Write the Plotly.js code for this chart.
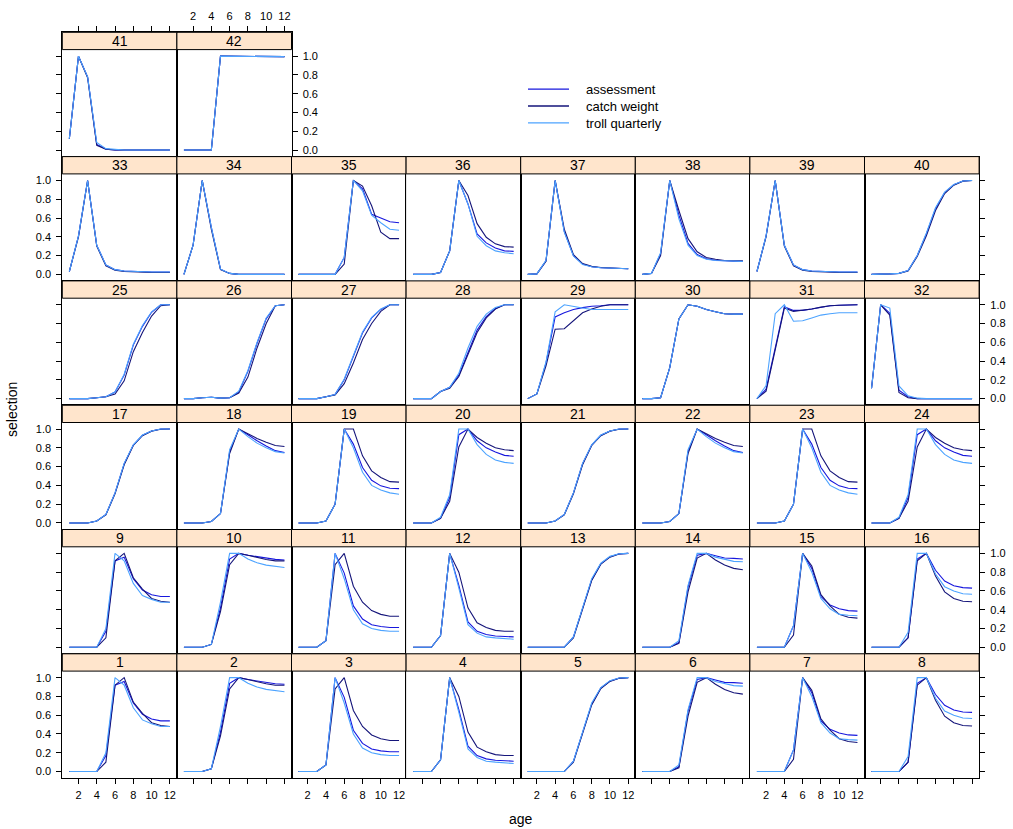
<!DOCTYPE html>
<html>
<head>
<meta charset="utf-8">
<script src="https://cdn.plot.ly/plotly-3.0.1.min.js"></script>
<style>html,body{margin:0;padding:0;background:#fff;} #chart{width:1013px;height:829px;}</style>
</head>
<body>
<div id="chart"></div>
<script>
// ---------------- data ----------------
const ages = [1, 2, 3, 4, 5, 6, 7, 8, 9, 10, 11, 12];
const panelLabels = ['1','2','3','4','5','6','7','8','9','10','11','12','13','14','15','16','17','18','19','20','21','22','23','24','25','26','27','28','29','30','31','32','33','34','35','36','37','38','39','40','41','42'];
const seriesNames = ['assessment', 'catch weight', 'troll quarterly'];
const seriesColors = ['#1717DD', '#15157A', '#4CA3FF'];
const xTickVals = [2, 4, 6, 8, 10, 12];
const yTickVals = [0, 0.2, 0.4, 0.6, 0.8, 1.0];
const yTickText = ['0.0', '0.2', '0.4', '0.6', '0.8', '1.0'];

const assessment = [
  [0,0,0,0,0.17,0.92,0.96,0.73,0.61,0.56,0.54,0.54],
  [0,0,0,0.03,0.42,0.94,1.0,0.98,0.965,0.95,0.936,0.93],
  [0,0,0,0.07,1.0,0.79,0.44,0.3,0.24,0.22,0.21,0.21],
  [0,0,0,0.125,1.0,0.66,0.27,0.17,0.135,0.12,0.115,0.11],
  [0,0,0,0,0,0.11,0.41,0.72,0.89,0.965,0.995,1.0],
  [0,0,0,0,0.05,0.64,0.98,1.0,0.975,0.95,0.947,0.94],
  [0,0,0,0,0.23,1.0,0.84,0.54,0.45,0.41,0.39,0.385],
  [0,0,0,0,0.1,0.94,1.0,0.82,0.705,0.655,0.635,0.63],
  [0,0,0,0,0.17,0.92,0.96,0.73,0.61,0.56,0.54,0.54],
  [0,0,0,0.03,0.42,0.94,1.0,0.98,0.965,0.95,0.936,0.93],
  [0,0,0,0.07,1.0,0.79,0.44,0.3,0.24,0.22,0.21,0.21],
  [0,0,0,0.125,1.0,0.66,0.27,0.17,0.135,0.12,0.115,0.11],
  [0,0,0,0,0,0.11,0.41,0.72,0.89,0.965,0.995,1.0],
  [0,0,0,0,0.05,0.64,0.98,1.0,0.975,0.95,0.947,0.94],
  [0,0,0,0,0.23,1.0,0.84,0.54,0.45,0.41,0.39,0.385],
  [0,0,0,0,0.1,0.94,1.0,0.82,0.705,0.655,0.635,0.63],
  [0,0,0,0.02,0.09,0.32,0.63,0.83,0.935,0.98,1.0,1.0],
  [0,0,0,0.015,0.1,0.76,1.0,0.94,0.875,0.82,0.77,0.75],
  [0,0,0,0.02,0.2,1.0,0.84,0.59,0.455,0.395,0.37,0.365],
  [0,0,0,0.05,0.27,0.94,1.0,0.875,0.8,0.755,0.72,0.71],
  [0,0,0,0.02,0.09,0.32,0.63,0.83,0.935,0.98,1.0,1.0],
  [0,0,0,0.015,0.1,0.76,1.0,0.94,0.875,0.82,0.77,0.75],
  [0,0,0,0.02,0.2,1.0,0.84,0.59,0.455,0.395,0.37,0.365],
  [0,0,0,0.05,0.27,0.94,1.0,0.875,0.8,0.755,0.72,0.71],
  [0,0,0,0.01,0.02,0.07,0.25,0.57,0.77,0.92,1.0,1.0],
  [0,0,0.01,0.015,0.005,0.01,0.07,0.29,0.59,0.85,0.99,1.0],
  [0,0,0,0.02,0.045,0.2,0.45,0.7,0.86,0.95,1.0,1.0],
  [0,0,0,0.075,0.12,0.25,0.48,0.73,0.875,0.96,1.0,1.0],
  [0,0.05,0.38,0.87,0.915,0.95,0.97,0.985,0.99,1.0,1.0,1.0],
  [0,0,0.01,0.33,0.85,1.0,0.985,0.95,0.925,0.905,0.9,0.9],
  [0,0.1,0.54,0.98,0.94,0.94,0.955,0.975,0.99,0.995,1.0,1.0],
  [0.11,1.0,0.91,0.09,0.02,0,0,0,0,0,0,0],
  [0.03,0.41,1.0,0.31,0.1,0.05,0.035,0.03,0.025,0.025,0.025,0.025],
  [0,0.31,1.0,0.5,0.055,0.01,0,0,0,0,0,0],
  [0,0,0,0,0,0.18,1.0,0.91,0.64,0.6,0.56,0.55],
  [0,0,0,0.02,0.25,1.0,0.75,0.43,0.335,0.28,0.25,0.245],
  [0,0.005,0.145,1.0,0.455,0.2,0.11,0.08,0.07,0.065,0.06,0.06],
  [0,0.01,0.22,1.0,0.63,0.33,0.21,0.165,0.15,0.143,0.14,0.14],
  [0.03,0.41,1.0,0.31,0.1,0.05,0.035,0.03,0.025,0.025,0.025,0.025],
  [0,0,0.005,0.01,0.04,0.2,0.43,0.7,0.87,0.955,0.995,1.0],
  [0.12,1.0,0.78,0.06,0.01,0,0,0,0,0,0,0],
  [0,0,0,0,1.0,1.0,0.998,0.997,0.996,0.995,0.995,0.995]
];

const catchWeight = [
  [0,0,0,0,0.1,0.92,1.0,0.74,0.62,0.52,0.49,0.48],
  [0,0,0,0.03,0.38,0.88,1.0,0.98,0.955,0.935,0.92,0.92],
  [0,0,0,0.07,0.88,1.0,0.65,0.48,0.39,0.35,0.33,0.33],
  [0,0,0,0.125,1.0,0.8,0.42,0.26,0.21,0.18,0.17,0.17],
  [0,0,0,0,0,0.1,0.4,0.71,0.885,0.96,0.993,1.0],
  [0,0,0,0,0.04,0.59,0.95,1.0,0.93,0.875,0.84,0.825],
  [0,0,0,0,0.13,1.0,0.865,0.56,0.44,0.35,0.32,0.31],
  [0,0,0,0,0.1,0.92,1.0,0.76,0.59,0.52,0.49,0.485],
  [0,0,0,0,0.1,0.92,1.0,0.74,0.62,0.52,0.49,0.48],
  [0,0,0,0.03,0.38,0.88,1.0,0.98,0.955,0.935,0.92,0.92],
  [0,0,0,0.07,0.88,1.0,0.65,0.48,0.39,0.35,0.33,0.33],
  [0,0,0,0.125,1.0,0.8,0.42,0.26,0.21,0.18,0.17,0.17],
  [0,0,0,0,0,0.1,0.4,0.71,0.885,0.96,0.993,1.0],
  [0,0,0,0,0.04,0.59,0.95,1.0,0.93,0.875,0.84,0.825],
  [0,0,0,0,0.13,1.0,0.865,0.56,0.44,0.35,0.32,0.31],
  [0,0,0,0,0.1,0.92,1.0,0.76,0.59,0.52,0.49,0.485],
  [0,0,0,0.02,0.085,0.31,0.62,0.825,0.93,0.978,0.998,1.0],
  [0,0,0,0.015,0.1,0.74,1.0,0.95,0.9,0.86,0.825,0.815],
  [0,0,0,0.02,0.2,1.0,1.0,0.715,0.555,0.485,0.44,0.435],
  [0,0,0,0.05,0.23,0.81,1.0,0.91,0.85,0.8,0.78,0.77],
  [0,0,0,0.02,0.085,0.31,0.62,0.825,0.93,0.978,0.998,1.0],
  [0,0,0,0.015,0.1,0.74,1.0,0.95,0.9,0.86,0.825,0.815],
  [0,0,0,0.02,0.2,1.0,1.0,0.715,0.555,0.485,0.44,0.435],
  [0,0,0,0.05,0.23,0.81,1.0,0.91,0.85,0.8,0.78,0.77],
  [0,0,0,0.01,0.02,0.05,0.19,0.5,0.705,0.88,0.99,1.0],
  [0,0,0.01,0.015,0.005,0.01,0.06,0.23,0.54,0.8,0.99,1.0],
  [0,0,0,0.02,0.04,0.16,0.38,0.63,0.8,0.93,1.0,1.0],
  [0,0,0,0.075,0.11,0.235,0.47,0.705,0.86,0.955,1.0,1.0],
  [0,0.05,0.35,0.74,0.745,0.825,0.915,0.955,0.985,1.0,1.0,1.0],
  [0,0,0.01,0.33,0.85,1.0,0.985,0.95,0.925,0.905,0.9,0.9],
  [0,0.08,0.52,0.965,0.93,0.94,0.955,0.975,0.99,0.995,1.0,1.0],
  [0.11,1.0,0.89,0.065,0.01,0,0,0,0,0,0,0],
  [0.03,0.4,1.0,0.3,0.09,0.045,0.03,0.025,0.02,0.02,0.02,0.02],
  [0,0.31,1.0,0.48,0.05,0.01,0,0,0,0,0,0],
  [0,0,0,0,0,0.11,1.0,0.94,0.73,0.45,0.38,0.38],
  [0,0,0,0.02,0.25,1.0,0.84,0.54,0.395,0.325,0.295,0.29],
  [0,0.005,0.14,1.0,0.48,0.21,0.115,0.085,0.072,0.066,0.062,0.06],
  [0,0.01,0.2,1.0,0.68,0.38,0.24,0.18,0.16,0.148,0.145,0.145],
  [0.03,0.4,1.0,0.3,0.09,0.045,0.03,0.025,0.02,0.02,0.02,0.02],
  [0,0,0.005,0.01,0.035,0.19,0.41,0.68,0.86,0.95,0.993,1.0],
  [0.12,1.0,0.77,0.05,0.01,0,0,0,0,0,0,0],
  [0,0,0,0,1.0,1.0,0.998,0.997,0.996,0.995,0.995,0.995]
];

const trollQuarterly = [
  [0,0,0,0,0.2,1.0,0.92,0.68,0.55,0.51,0.48,0.48],
  [0,0,0,0.03,0.48,1.0,1.0,0.94,0.9,0.875,0.86,0.85],
  [0,0,0,0.07,1.0,0.73,0.4,0.25,0.2,0.18,0.17,0.17],
  [0,0,0,0.125,1.0,0.63,0.24,0.15,0.11,0.1,0.09,0.085],
  [0,0,0,0,0,0.11,0.42,0.73,0.895,0.968,0.996,1.0],
  [0,0,0,0,0.07,0.66,1.0,1.0,0.96,0.935,0.915,0.91],
  [0,0,0,0,0.23,1.0,0.8,0.52,0.41,0.35,0.34,0.335],
  [0,0,0,0,0.16,1.0,1.0,0.78,0.645,0.6,0.57,0.565],
  [0,0,0,0,0.2,1.0,0.92,0.68,0.55,0.51,0.48,0.48],
  [0,0,0,0.03,0.48,1.0,1.0,0.94,0.9,0.875,0.86,0.85],
  [0,0,0,0.07,1.0,0.73,0.4,0.25,0.2,0.18,0.17,0.17],
  [0,0,0,0.125,1.0,0.63,0.24,0.15,0.11,0.1,0.09,0.085],
  [0,0,0,0,0,0.11,0.42,0.73,0.895,0.968,0.996,1.0],
  [0,0,0,0,0.07,0.66,1.0,1.0,0.96,0.935,0.915,0.91],
  [0,0,0,0,0.23,1.0,0.8,0.52,0.41,0.35,0.34,0.335],
  [0,0,0,0,0.16,1.0,1.0,0.78,0.645,0.6,0.57,0.565],
  [0,0,0,0.02,0.09,0.32,0.635,0.832,0.936,0.98,1.0,1.0],
  [0,0,0,0.015,0.1,0.78,1.0,0.92,0.85,0.8,0.76,0.745],
  [0,0,0,0.02,0.2,1.0,0.8,0.54,0.4,0.35,0.32,0.305],
  [0,0,0,0.06,0.3,1.0,1.0,0.835,0.73,0.67,0.645,0.635],
  [0,0,0,0.02,0.09,0.32,0.635,0.832,0.936,0.98,1.0,1.0],
  [0,0,0,0.015,0.1,0.78,1.0,0.92,0.85,0.8,0.76,0.745],
  [0,0,0,0.02,0.2,1.0,0.8,0.54,0.4,0.35,0.32,0.305],
  [0,0,0,0.06,0.3,1.0,1.0,0.835,0.73,0.67,0.645,0.635],
  [0,0,0,0.01,0.02,0.07,0.26,0.58,0.78,0.925,1.0,1.0],
  [0,0,0.01,0.015,0.005,0.01,0.08,0.3,0.6,0.86,0.99,1.0],
  [0,0,0,0.02,0.045,0.21,0.46,0.71,0.865,0.955,1.0,1.0],
  [0,0,0,0.075,0.12,0.27,0.54,0.77,0.9,0.97,1.0,1.0],
  [0,0.05,0.39,0.925,1.0,0.98,0.965,0.95,0.95,0.95,0.95,0.95],
  [0,0,0.01,0.33,0.85,1.0,0.985,0.95,0.925,0.905,0.9,0.9],
  [0,0.14,0.905,1.0,0.825,0.83,0.86,0.89,0.905,0.915,0.915,0.915],
  [0.11,1.0,0.965,0.135,0.03,0.005,0,0,0,0,0,0],
  [0.03,0.41,1.0,0.31,0.1,0.05,0.035,0.03,0.025,0.025,0.025,0.025],
  [0,0.31,1.0,0.5,0.055,0.01,0,0,0,0,0,0],
  [0,0,0,0,0,0.18,1.0,0.89,0.63,0.55,0.48,0.47],
  [0,0,0,0.02,0.25,1.0,0.75,0.405,0.305,0.25,0.23,0.22],
  [0,0.005,0.15,1.0,0.45,0.195,0.105,0.08,0.07,0.065,0.06,0.06],
  [0,0.01,0.23,1.0,0.59,0.31,0.2,0.16,0.148,0.142,0.138,0.138],
  [0.03,0.41,1.0,0.31,0.1,0.05,0.035,0.03,0.025,0.025,0.025,0.025],
  [0,0,0.005,0.01,0.04,0.2,0.44,0.71,0.875,0.957,0.995,1.0],
  [0.12,1.0,0.78,0.08,0.015,0.005,0,0,0,0,0,0],
  [0,0,0,0,1.0,1.0,0.998,0.997,0.996,0.995,0.995,0.995]
];

// ---------------- layout geometry ----------------
const W = 1013, H = 829;
const colLeft0 = 62.3, colW = 114.6;
const rowTop0 = 32.3, rowH = 124.3, stripH = 17.3;
const nCols = 8, nRowsBottomUp = 6;
const FONT = 'Liberation Sans, Arial, Helvetica, sans-serif';
const xRange = [0.23, 12.77];
const yLo = -0.07, yHi = 1.07;
const plotH = rowH - stripH;
const yTop = yHi + (yHi - yLo) * stripH / plotH;

const series = [assessment, catchWeight, trollQuarterly];
const traces = [];
const layout = {
  width: W, height: H, autosize: false,
  margin: {l: 0, r: 0, t: 0, b: 0, pad: 0},
  paper_bgcolor: '#ffffff', plot_bgcolor: '#ffffff',
  font: {family: FONT, size: 11, color: '#000'},
  showlegend: false,
  shapes: [], annotations: []
};

const px2x = p => p / W;
const px2y = p => 1 - p / H;

for (let i = 0; i < panelLabels.length; i++) {
  const n = i + 1;
  const rb = Math.floor(i / nCols);          // row from bottom
  const c = i % nCols;                        // column
  const r = nRowsBottomUp - 1 - rb;           // row from top
  const lastCol = (rb === nRowsBottomUp - 1) ? (panelLabels.length - 1) % nCols : nCols - 1;
  const L = colLeft0 + c * colW, R = L + colW;
  const T = rowTop0 + r * rowH, B = T + rowH;
  const xName = n === 1 ? 'x' : 'x' + n;
  const yName = n === 1 ? 'y' : 'y' + n;
  const xKey = n === 1 ? 'xaxis' : 'xaxis' + n;
  const yKey = n === 1 ? 'yaxis' : 'yaxis' + n;

  const isBottom = rb === 0;
  layout[xKey] = {
    domain: [px2x(L), px2x(R)], range: xRange, anchor: yName,
    showgrid: false, zeroline: false, showline: true, mirror: true,
    linecolor: '#000', linewidth: 1,
    tickmode: 'array', tickvals: xTickVals,
    ticks: isBottom ? 'outside' : '', ticklen: 5, tickwidth: 1, tickcolor: '#000',
    showticklabels: isBottom && c % 2 === 0,
    ticklabelstandoff: 2,
    tickfont: {family: FONT, size: 11, color: '#000'}, fixedrange: true
  };

  let ySide = 'left', yTicks = '', yLabels = false;
  if (c === 0) { ySide = 'left'; yTicks = 'outside'; yLabels = rb % 2 === 0; }
  else if (c === lastCol) { ySide = 'right'; yTicks = 'outside'; yLabels = rb % 2 === 1; }
  layout[yKey] = {
    domain: [px2y(B), px2y(T)], range: [yLo, yTop], anchor: xName, side: ySide,
    showgrid: false, zeroline: false, showline: true, mirror: true,
    linecolor: '#000', linewidth: 1,
    tickmode: 'array', tickvals: yTickVals, ticktext: yTickText,
    ticks: yTicks, ticklen: 5, tickwidth: 1, tickcolor: '#000',
    showticklabels: yLabels, ticklabelstandoff: 3,
    tickfont: {family: FONT, size: 11, color: '#000'}, fixedrange: true
  };

  // strip
  layout.shapes.push({
    type: 'rect', xref: 'paper', yref: 'paper',
    x0: px2x(L), x1: px2x(R), y0: px2y(T + stripH), y1: px2y(T),
    fillcolor: '#FFE5CC', line: {color: '#000', width: 1}, layer: 'above'
  });
  layout.annotations.push({
    xref: 'paper', yref: 'paper', x: px2x((L + R) / 2), y: px2y(T + stripH / 2),
    text: panelLabels[i], showarrow: false, xanchor: 'center', yanchor: 'middle',
    font: {family: FONT, size: 14, color: '#000'}
  });

  for (let s = 0; s < series.length; s++) {
    traces.push({
      type: 'scatter', mode: 'lines', x: ages, y: series[s][i],
      xaxis: xName, yaxis: yName,
      name: seriesNames[s], showlegend: false,
      line: {color: seriesColors[s], width: 1.1}, hoverinfo: 'skip'
    });
  }

  // top axis for panels in the top row of the layout
  if (rb === nRowsBottomUp - 1) {
    const topN = panelLabels.length + 1 + c;
    const topKey = 'xaxis' + topN;
    layout[topKey] = {
      overlaying: xName, anchor: yName, side: 'top', range: xRange,
      showgrid: false, zeroline: false, showline: false,
      tickmode: 'array', tickvals: xTickVals,
      ticks: 'outside', ticklen: 5, tickwidth: 1, tickcolor: '#000',
      showticklabels: c % 2 === 1, ticklabelstandoff: 2,
      tickfont: {family: FONT, size: 11, color: '#000'}, fixedrange: true
    };
    traces.push({type: 'scatter', mode: 'lines', x: [], y: [], xaxis: 'x' + topN, yaxis: yName,
      showlegend: false, hoverinfo: 'skip'});
  }
}

// key (legend) drawn like the lattice key: short line + label, one text block
const keyFont = 13;
const keyLineGap = keyFont * 1.3;
const keyCenterY = 106;
const keyLineX0 = 528, keyLineX1 = 569, keyTextX = 585;
for (let s = 0; s < seriesNames.length; s++) {
  const yy = keyCenterY + (s - 1) * keyLineGap;
  layout.shapes.push({
    type: 'line', xref: 'paper', yref: 'paper',
    x0: px2x(keyLineX0), x1: px2x(keyLineX1), y0: px2y(yy), y1: px2y(yy),
    line: {color: seriesColors[s], width: 1.3}
  });
}
layout.annotations.push({
  xref: 'paper', yref: 'paper', x: px2x(keyTextX), y: px2y(keyCenterY),
  text: seriesNames.join('<br>'), showarrow: false, xanchor: 'left', yanchor: 'middle',
  align: 'left', borderpad: 0,
  font: {family: FONT, size: keyFont, color: '#000'}
});

layout.annotations.push({
  xref: 'paper', yref: 'paper', x: px2x(521), y: px2y(819), text: 'age',
  showarrow: false, xanchor: 'center', yanchor: 'middle',
  font: {family: FONT, size: 14, color: '#000'}
});
layout.annotations.push({
  xref: 'paper', yref: 'paper', x: px2x(12), y: px2y(410), text: 'selection',
  textangle: -90, showarrow: false, xanchor: 'center', yanchor: 'middle',
  font: {family: FONT, size: 14, color: '#000'}
});

Plotly.newPlot('chart', traces, layout, {displayModeBar: false, staticPlot: true});
</script>
</body>
</html>
